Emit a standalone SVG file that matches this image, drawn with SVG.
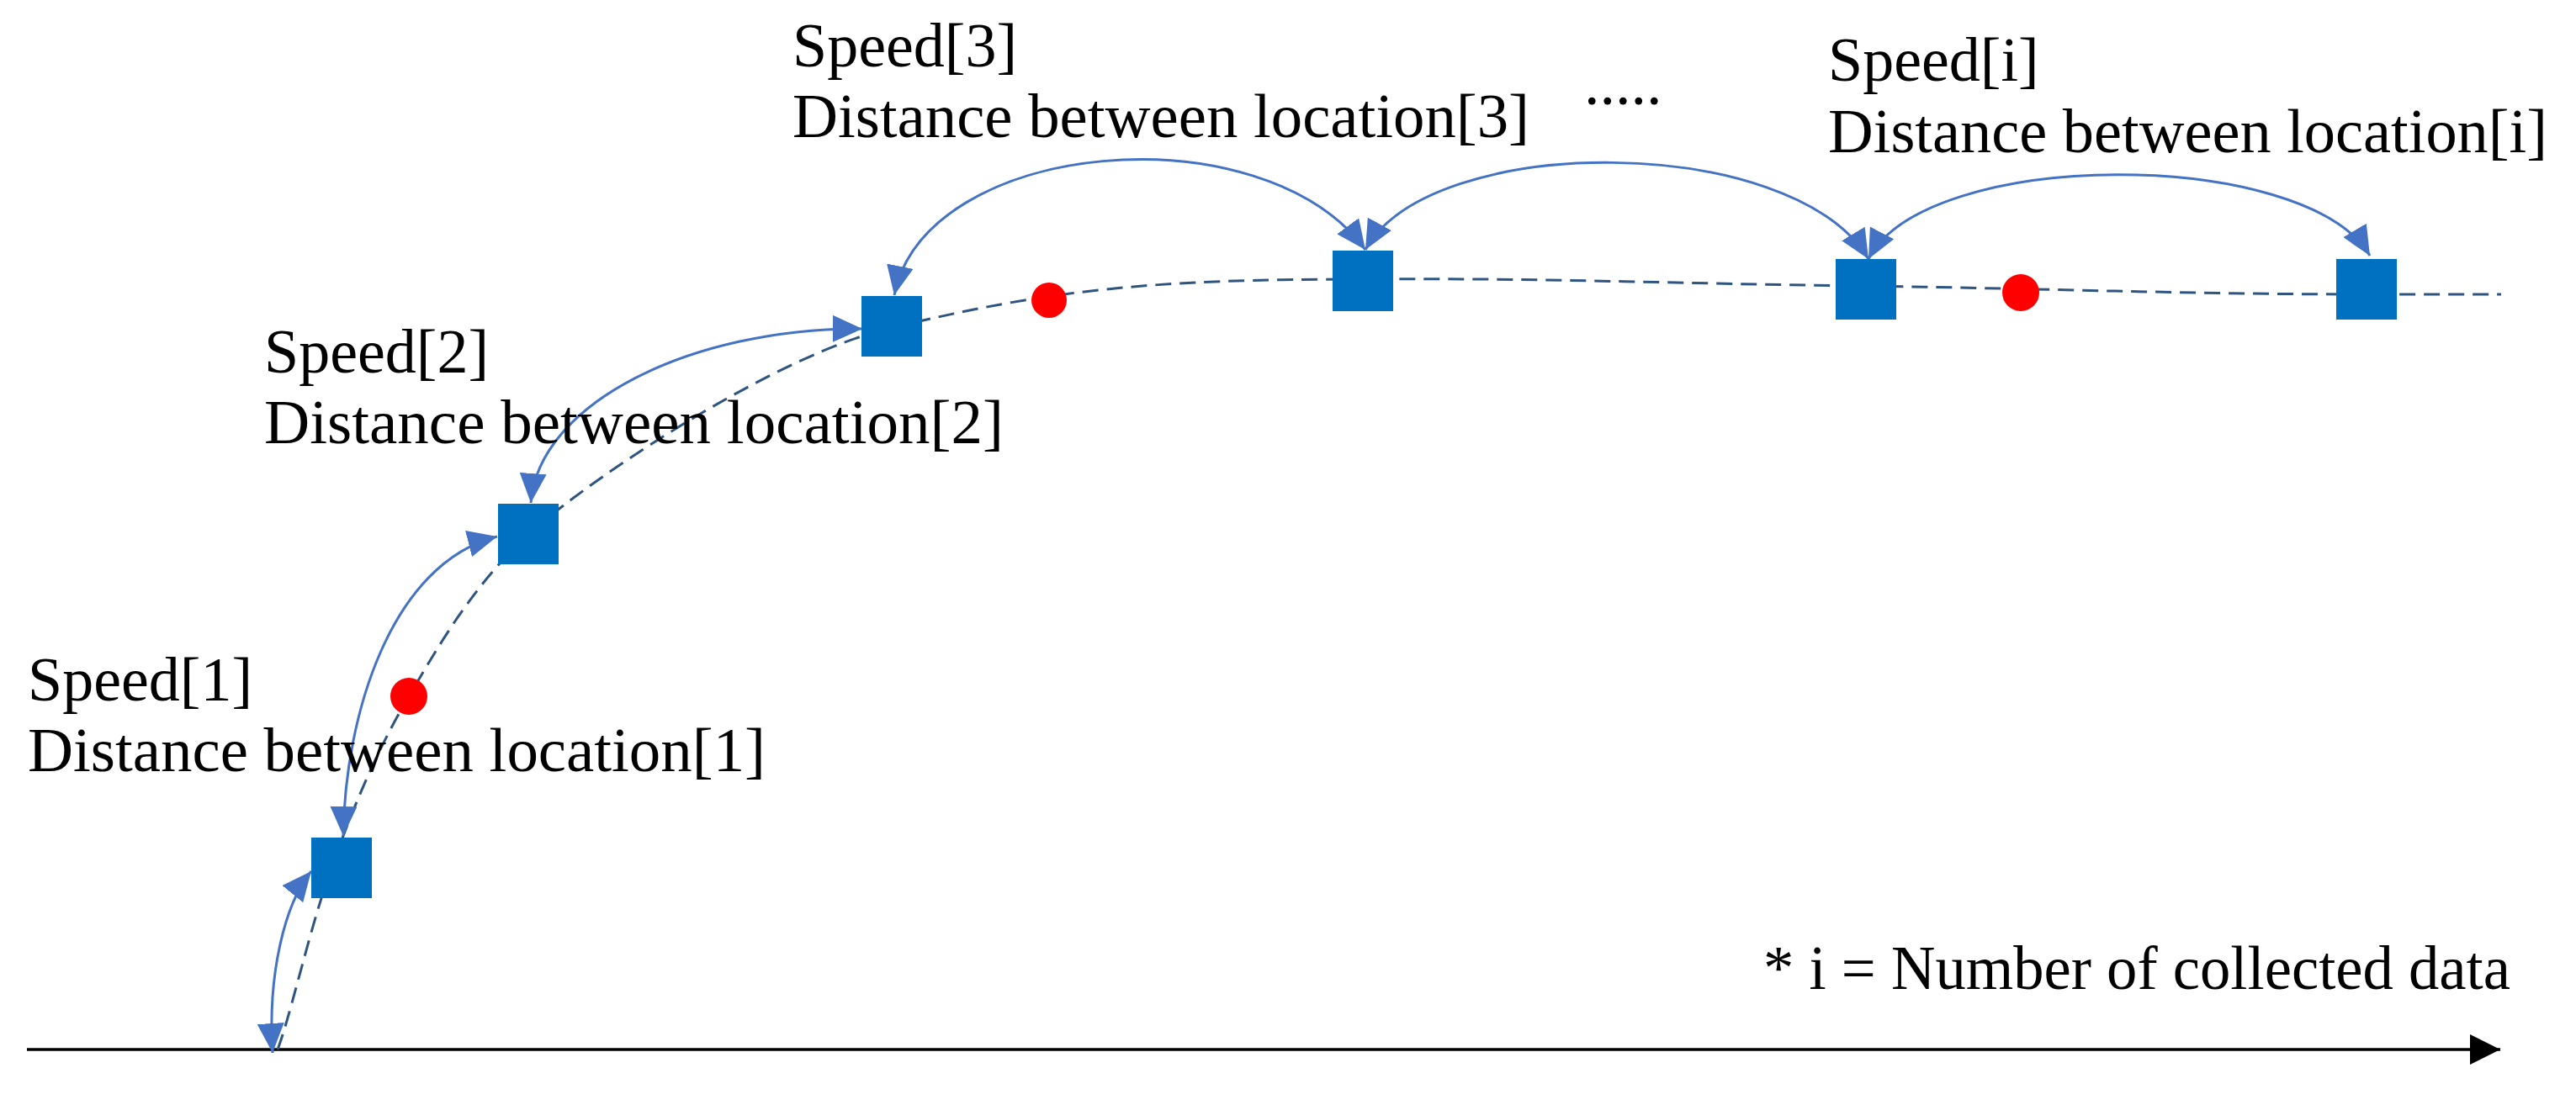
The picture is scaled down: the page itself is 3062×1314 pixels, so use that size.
<svg xmlns="http://www.w3.org/2000/svg" width="3062" height="1314" viewBox="0 0 3062 1314">
<style>
  .lbl { font-family: "Liberation Serif", "Times New Roman", serif; font-size: 74px; fill: #000; }
  .pt { fill: #0070C0; }
  .dot { fill: #FF0000; }
  .arc { fill: none; stroke: #4472C4; stroke-width: 3; marker-start: url(#ah); marker-end: url(#ah); }
  .traj { fill: none; stroke: #2E5480; stroke-width: 3; stroke-dasharray: 19 10; }
</style>
<defs>
  <marker id="ah" markerUnits="userSpaceOnUse" markerWidth="35" markerHeight="32" refX="35" refY="16" orient="auto-start-reverse" viewBox="0 0 35 32">
    <path d="M0,0 L35,16 L0,32 z" fill="#4472C4"/>
  </marker>
  <marker id="axh" markerUnits="userSpaceOnUse" markerWidth="36" markerHeight="36" refX="36" refY="18" orient="auto" viewBox="0 0 36 36">
    <path d="M0,0 L36,18 L0,36 z" fill="#000"/>
  </marker>
</defs>
<rect width="3062" height="1314" fill="#fff"/>

<g id="connectors">
  <line id="axis" x1="32" y1="1248" x2="2972" y2="1248" stroke="#000" stroke-width="3.5" marker-end="url(#axh)"/>
  <path id="trajectory" class="traj" d="M 330 1248 C 345 1209 369 1101 394 1032 C 419 962 447 894 486 828 C 525 762 560 700 628 635 C 720 555 930 420 1059 390 C 1249 344 1370 332 1620 332 C 1820 330 2018 338 2218 340 C 2418 343 2613 350 2813 350 L 2973 350"/>
  <path id="arc1" class="arc" d="M 324 1252 C 318 1160 338 1075 370 1036"/>
  <path id="arc2" class="arc" d="M 408 994 C 410 850 465 670 591 638"/>
  <path id="arc3" class="arc" d="M 631 598 C 640 480 820 390 1025 391"/>
  <path id="arc4" class="arc" d="M 1063 351 C 1100 165 1500 130 1623 297"/>
  <path id="arc5" class="arc" d="M 1623 297 C 1700 157 2130 157 2221 308"/>
  <path id="arc6" class="arc" d="M 2221 308 C 2290 175 2740 175 2817 304"/>
</g>

<g id="node1"><rect class="pt" x="370" y="996" width="72" height="72"/></g>
<g id="node2"><rect class="pt" x="592" y="599" width="72" height="72"/></g>
<g id="node3"><rect class="pt" x="1024" y="352" width="72" height="72"/></g>
<g id="node4"><rect class="pt" x="1584" y="298" width="72" height="72"/></g>
<g id="node5"><rect class="pt" x="2182" y="308" width="72" height="72"/></g>
<g id="node6"><rect class="pt" x="2777" y="308" width="72" height="72"/></g>

<g id="mid1"><ellipse class="dot" cx="486" cy="828" rx="22" ry="22"/></g>
<g id="mid2"><ellipse class="dot" cx="1247" cy="357" rx="21" ry="21"/></g>
<g id="mid3"><ellipse class="dot" cx="2402" cy="348" rx="22" ry="22"/></g>

<g id="label1">
  <text class="lbl" x="33" y="833">Speed[1]</text>
  <text class="lbl" x="33" y="917" textLength="877" lengthAdjust="spacingAndGlyphs">Distance between location[1]</text>
</g>
<g id="label2">
  <text class="lbl" x="314" y="443">Speed[2]</text>
  <text class="lbl" x="314" y="527" textLength="879" lengthAdjust="spacingAndGlyphs">Distance between location[2]</text>
</g>
<g id="label3">
  <text class="lbl" x="942" y="79">Speed[3]</text>
  <text class="lbl" x="942" y="163" textLength="876" lengthAdjust="spacingAndGlyphs">Distance between location[3]</text>
</g>
<g id="ellipsis"><text class="lbl" x="1883" y="124">.....</text></g>
<g id="labeli">
  <text class="lbl" x="2173" y="96">Speed[i]</text>
  <text class="lbl" x="2173" y="181" textLength="855" lengthAdjust="spacingAndGlyphs">Distance between location[i]</text>
</g>
<g id="note"><text class="lbl" x="2096" y="1176" textLength="888" lengthAdjust="spacingAndGlyphs">* i = Number of collected data</text></g>
</svg>
